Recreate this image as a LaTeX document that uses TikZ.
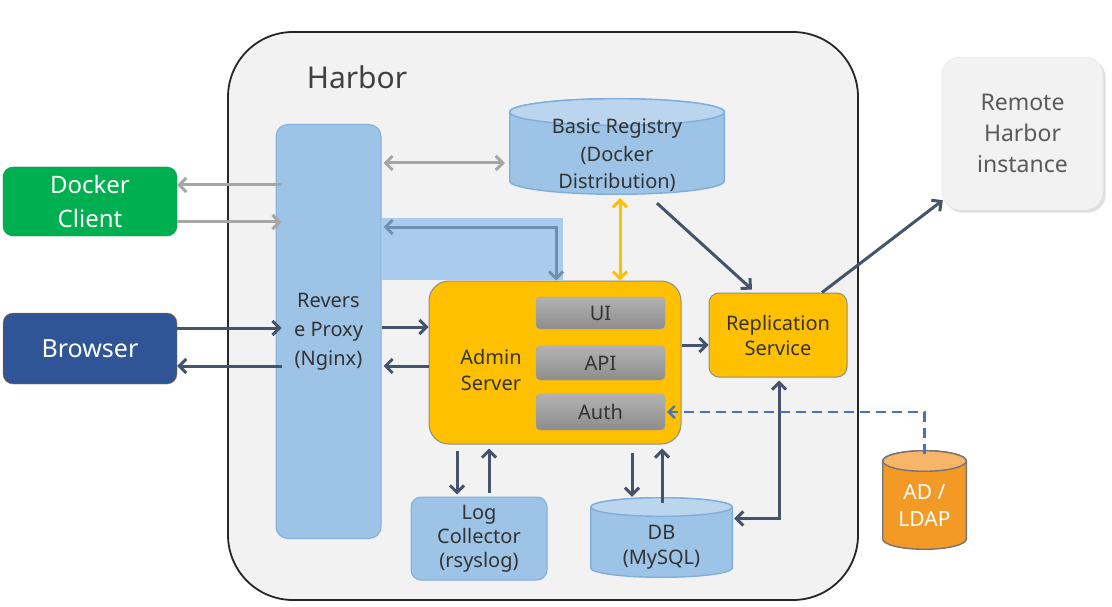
\documentclass[tikz,border=0pt]{standalone}
\usepackage{fontspec}
\setmainfont{Noto Sans}
\usepackage{tikz}
\usetikzlibrary{arrows.meta}
\usetikzlibrary{calc}
\usetikzlibrary{shadows}
\definecolor{harborbg}{HTML}{F2F2F2}
\definecolor{dockgreen}{HTML}{00B050}
\definecolor{browblue}{HTML}{2F5597}
\definecolor{lightblue}{HTML}{9DC3E6}
\definecolor{lblueedge}{HTML}{7FAEDB}
\definecolor{amber}{HTML}{FFC000}
\definecolor{slate}{HTML}{44546A}
\definecolor{arrgray}{HTML}{A6A6A6}
\definecolor{ldaporange}{HTML}{F39A26}
\definecolor{ldaptop}{HTML}{F7B56A}
\definecolor{hiblue}{HTML}{A9CBEE}
\definecolor{hiarrow}{HTML}{6F8FAE}
\definecolor{dashblue}{HTML}{4472C4}
\tikzset{
	barb/.tip={Straight Barb[length=7pt,width=14pt]},
	txt/.style={align=center, font=\fontsize{20}{25}\selectfont, text=black!80},
	box/.style={rectangle, rounded corners=10pt, txt},
	bluebox/.style={box, fill=lightblue, draw=lblueedge, line width=1pt},
	yellowbox/.style={box, fill=amber, draw=black!45, line width=1pt},
	graybox/.style={rectangle, rounded corners=4pt, txt, top color=black!30, bottom color=black!45, draw=black!35,
		minimum width=129pt},
	arr/.style={draw=slate, line width=3pt, -barb},
	grayarr/.style={arr, draw=arrgray},
	% drum = cylinder drawn inside the node box
	drum ry/.store in=\drumry,
	drum body/.store in=\drumbody,
	drum top/.store in=\drumtop,
	drum edge/.store in=\drumedge,
	drum ry=12pt,
	drum body=lightblue,
	drum top=lightblue!70,
	drum edge=lblueedge,
	drum/.style={rectangle, inner sep=0pt, path picture={
		\filldraw[fill=\drumbody, draw=\drumedge, line width=1.4pt]
			let \p1=(path picture bounding box.north west), \p2=(path picture bounding box.south east),
			\n1={(\x2-\x1)/2-0.7pt} in
			(\x1+0.7pt,\y1-\drumry) -- (\x1+0.7pt,\y2+\drumry)
			arc[start angle=180, end angle=360, x radius=\n1, y radius=\drumry-0.7pt]
			-- (\x2-0.7pt,\y1-\drumry)
			arc[start angle=0, end angle=180, x radius=\n1, y radius=\drumry-0.7pt] -- cycle;
		\filldraw[fill=\drumtop, draw=\drumedge, line width=1.4pt]
			let \p1=(path picture bounding box.north west), \p2=(path picture bounding box.south east),
			\n1={(\x2-\x1)/2-0.7pt} in
			(\x1/2+\x2/2,\y1-\drumry) ellipse[x radius=\n1, y radius=\drumry-0.7pt];
	}},
}

\begin{document}
\begin{tikzpicture}[x=1pt,y=-1pt]
	\useasboundingbox (0,0) rectangle (1112,607);
	% outer harbor frame
	\node[rectangle, rounded corners=65pt, fill=harborbg, draw=black!85, line width=1.8pt,
		minimum width=630pt, minimum height=568pt] (harbor) at (543,316) {};
	\node[font=\fontsize{30}{32}\selectfont, text=black!75] (title) at (357,77) {Harbor};
	% clients
	\node[box, fill=dockgreen, draw=dockgreen!80!black, minimum width=174pt, minimum height=69pt,
		font=\fontsize{24}{34}\selectfont, text=white] (docker) at (90,201.5) {Docker\\Client};
	\node[box, fill=browblue, draw=orange!80!black, minimum width=174pt, minimum height=71pt,
		font=\fontsize{25}{30}\selectfont, text=white] (browser) at (90,348.5) {Browser};
	% harbor parts
	\node[bluebox, rounded corners=12pt, minimum width=105pt, minimum height=414pt,
		font=\fontsize{20}{29}\selectfont] (proxy) at (328.5,331.5) {Revers\\e Proxy\\(Nginx)};
	\node[drum, drum ry=14pt, minimum width=216pt, minimum height=97pt] (registry) at (617,146.5) {};
	\node[txt, font=\fontsize{20}{27.5}\selectfont] (reglbl) at ([yshift=-9pt]registry.center)
		{Basic Registry\\(Docker\\Distribution)};
	\fill[hiblue] (proxy.east |- 0,218) rectangle (563,280);
	\node[yellowbox, rounded corners=20pt, minimum width=252pt, minimum height=163pt] (admin) at (555,362.5) {};
	\node[txt, font=\fontsize{20}{26}\selectfont] (adminlbl) at (491,370) {Admin\\Server};
	\node[graybox, minimum height=32pt] (ui) at (600.5,313) {UI};
	\node[graybox, minimum height=34pt] (api) at (600.5,363) {API};
	\node[graybox, minimum height=36pt] (auth) at (600.5,412) {Auth};
	\node[yellowbox, minimum width=138pt, minimum height=84pt] (repl) at (778,335) {Replication\\Service};
	\node[bluebox, minimum width=136pt, minimum height=83pt, font=\fontsize{20}{24}\selectfont] (log) at (479,538.5)
		{Log\\Collector\\(rsyslog)};
	\node[drum, drum ry=10pt, minimum width=143pt, minimum height=81pt] (db) at (661.5,537.5) {};
	\node[txt, font=\fontsize{20}{25}\selectfont] (dblbl) at ([yshift=-10pt]db.center) {DB\\(MySQL)};
	% outside
	\node[box, rounded corners=18pt, fill=harborbg, draw=black!12, drop shadow={opacity=0.25},
		minimum width=161pt, minimum height=153pt, text=black!65, font=\fontsize{23}{31}\selectfont] (remote)
		at (1022.5,133.5) {Remote\\Harbor\\instance};
	\node[drum, drum ry=11pt, drum body=ldaporange, drum top=ldaptop, drum edge=black!55,
		minimum width=85pt, minimum height=100pt] (ldap) at (924.5,500) {};
	\node[txt, text=white, font=\fontsize{21}{27}\selectfont] (ldaplbl) at ([yshift=-5pt]ldap.center) {AD /\\LDAP};
	% gray docker traffic
	\draw[grayarr] ([xshift=6pt]proxy.west |- 0,185) -- (docker.east |- 0,185);
	\draw[grayarr] (docker.east |- 0,222) -- ([xshift=6pt]proxy.west |- 0,222);
	\draw[grayarr, barb-barb] ([xshift=2pt]proxy.east |- 0,163) -- ([xshift=-4pt]registry.west |- 0,163);
	% browser traffic
	\draw[arr] (browser.east |- 0,328) -- ([xshift=6pt]proxy.west |- 0,328);
	\draw[arr] ([xshift=6pt]proxy.west |- 0,366) -- (browser.east |- 0,366);
	\draw[arr] (proxy.east |- 0,327) -- (admin.west |- 0,327);
	\draw[arr] (admin.west |- 0,366) -- ([xshift=2pt]proxy.east |- 0,366);
	% token path
	\draw[arr, draw=hiarrow, barb-barb] ([xshift=2pt]proxy.east |- 0,227) -| (admin.north -| 556,0);
	\draw[arr, draw=amber, barb-barb] ([yshift=-3pt]registry.south -| 620,0) -- (admin.north -| 620,0);
	% replication
	\draw[arr] ([shift={(40,8)}]registry.south) -- ([shift={(-26,-3)}]repl.north);
	\draw[arr] (admin.east |- 0,345) -- (repl.west |- 0,345);
	\draw[arr] ([xshift=44pt]repl.north) -- ([shift={(1,-10)}]remote.south west);
	\draw[arr, barb-barb] ([shift={(1,-19)}]db.east) -| ([shift={(1,3)}]repl.south);
	% ldap auth
	\draw[dashed, dash pattern=on 10pt off 6pt, draw=dashblue, line width=2.2pt, -{Straight Barb[length=6pt,width=12pt]}]
		([yshift=-4pt]ldap.north) |- ([xshift=2pt]auth.east);
	% log and db
	\draw[arr] ([yshift=-6pt]admin.south -| 457,0) -- ([yshift=2pt]log.north -| 457,0);
	\draw[arr] ([yshift=4pt]log.north -| 489,0) -- ([yshift=-4pt]admin.south -| 489,0);
	\draw[arr] ([yshift=-8pt]admin.south -| 632,0) -- (db.north -| 632,0);
	\draw[arr] ([yshift=-6pt]db.north -| 662,0) -- ([yshift=-4pt]admin.south -| 662,0);
\end{tikzpicture}
\end{document}
